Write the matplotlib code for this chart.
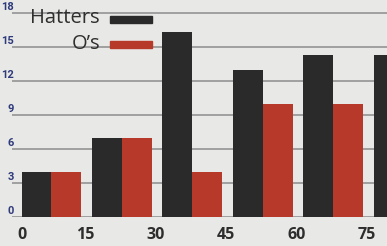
import matplotlib
matplotlib.use("Agg")
import matplotlib.pyplot as plt
import matplotlib.transforms as mtransforms
import numpy as np

minutes = [0, 15, 30, 45, 60, 75]
hatters = [4, 7, 16.3, 13, 14.3, 14.3]
os_vals = [4, 7, 4, 10, 10, np.nan]
yticks = [0, 3, 6, 9, 12, 15, 18]

W, H = 387, 246
dpi = 100
fig = plt.figure(figsize=(W / dpi, H / dpi), dpi=dpi)
bg = "#e8e8e6"
fig.patch.set_facecolor(bg)

ax_left = 12 / W
ax_bottom = (H - 217) / H
ax = fig.add_axes([ax_left, ax_bottom, 1 - ax_left, 217 / H])
ax.set_facecolor(bg)

pxu = 4.7  # pixels per data unit (x)
zero_px = 14.5
x0 = (12 - zero_px) / pxu
x1 = (W - zero_px) / pxu
ax.set_xlim(x0, x1)
ax.set_ylim(0, 217 / 11.33)

x = np.array(minutes, dtype=float)
off = 7 / pxu
bw = 30 / pxu
ax.bar(x + off, hatters, width=bw, align="edge", color="#2a2a2a", zorder=3)
ax.bar(x + off + bw, os_vals, width=bw, align="edge", color="#b7392a", zorder=3)

ax.set_yticks(yticks)
ax.yaxis.grid(True, color="#9a9a9a", linewidth=1.3, zorder=0)
ax.set_xticks(minutes)
ax.set_xticklabels([str(m) for m in minutes])
for s in ax.spines.values():
    s.set_visible(False)
ax.tick_params(axis="both", length=0)
ax.tick_params(axis="x", pad=7, labelsize=11.5, labelcolor="#2d2d2d")
ax.tick_params(axis="y", pad=-1.5, labelsize=8, labelcolor="#2e3a7c")
for lbl in ax.get_xticklabels():
    lbl.set_fontweight("bold")
    lbl.set_family("Open Sans")
for lbl in ax.get_yticklabels():
    lbl.set_fontweight("bold")
    lbl.set_family("Roboto")
    lbl.set_verticalalignment("bottom")
    lbl.set_transform(lbl.get_transform() + mtransforms.ScaledTranslation(0, 1 / dpi, fig.dpi_scale_trans))

xl = ax.get_xticklabels()
xl[0].set_transform(xl[0].get_transform() + mtransforms.ScaledTranslation(7 / dpi, 0, fig.dpi_scale_trans))

# legend (manual)
fig.text(100 / W, 1 - 18 / H, "Hatters", ha="right", va="center", fontsize=14.5,
         color="#2f2f2f", family="Open Sans")
fig.text(100 / W, 1 - 44 / H, "O\u2019s", ha="right", va="center", fontsize=14.5,
         color="#2f2f2f", family="Open Sans")
fig.patches.append(plt.Rectangle((110 / W, 1 - 23 / H), 42 / W, 7 / H,
                                 transform=fig.transFigure, color="#2a2a2a"))
fig.patches.append(plt.Rectangle((110 / W, 1 - 48 / H), 42 / W, 7 / H,
                                 transform=fig.transFigure, color="#b7392a"))

fig.savefig("out.png", dpi=dpi, facecolor=bg)
